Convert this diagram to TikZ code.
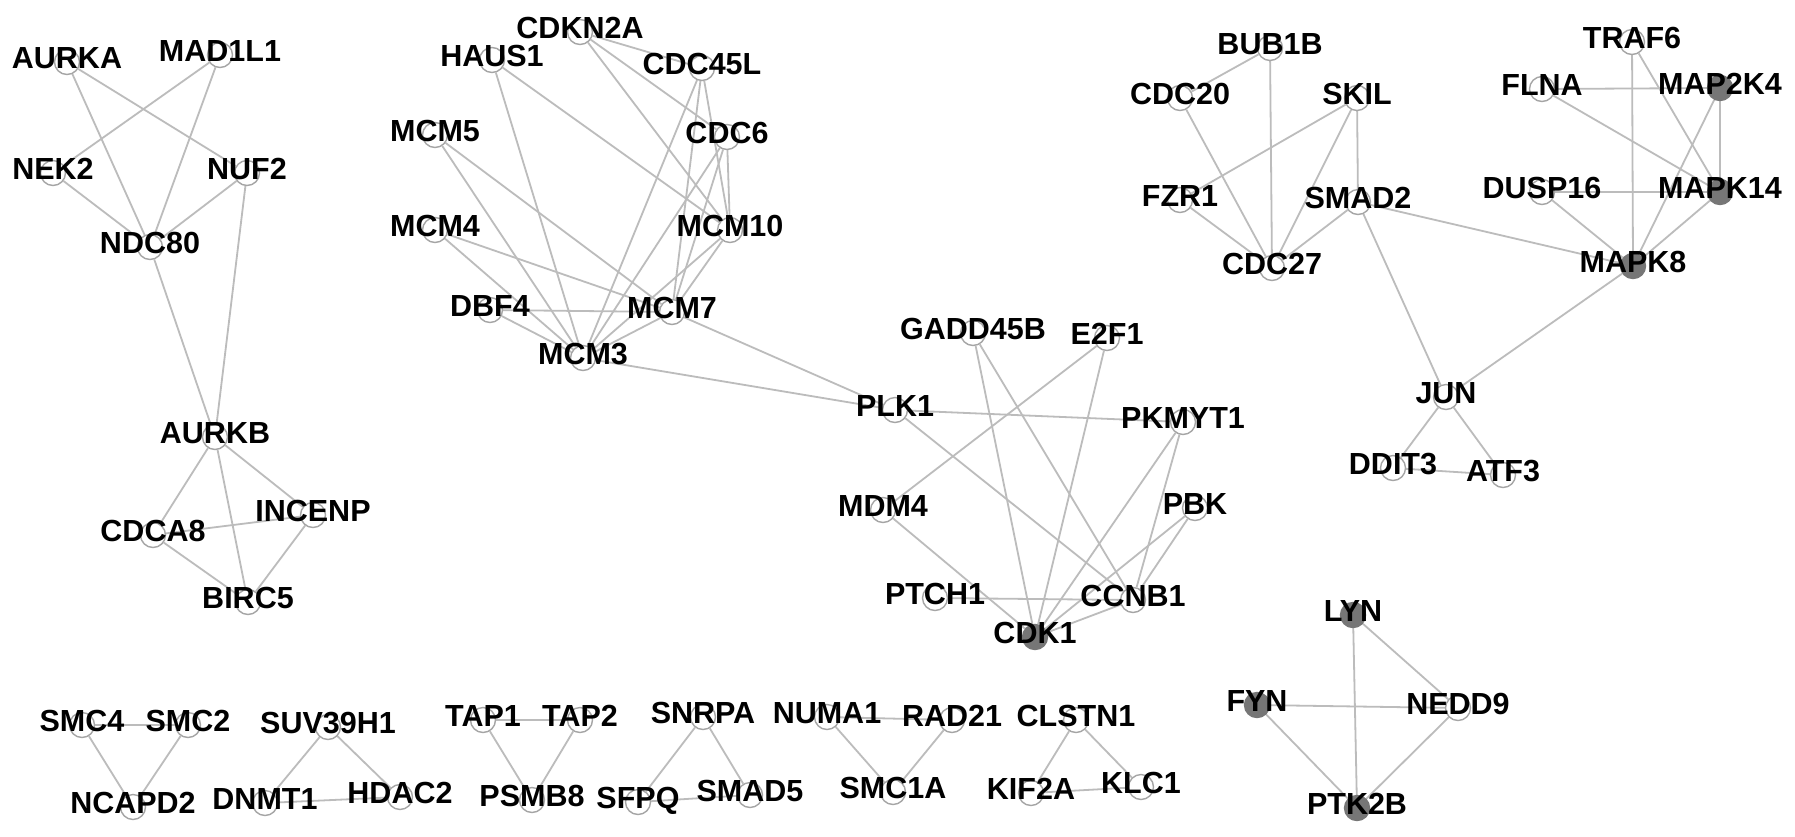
\documentclass[tikz,border=0pt]{standalone}
\usepackage{fontspec}
\setmainfont{Liberation Sans}
\definecolor{edgegray}{RGB}{188,188,188}
\definecolor{circgray}{RGB}{165,165,165}
\definecolor{hubgray}{RGB}{118,118,118}
\pgfdeclarelayer{edges}
\pgfdeclarelayer{labels}
\pgfsetlayers{edges,main,labels}
\begin{document}
\begin{tikzpicture}[x=1pt,y=-1pt,
  gene/.style={circle,draw=circgray,line width=1.4pt,fill=white,minimum size=25pt,inner sep=0pt},
  hub/.style={gene,fill=hubgray,draw=hubgray},
  lab/.style={font=\fontsize{30.5}{32}\selectfont\bfseries,text=black,inner sep=0pt,anchor=base},
  link/.style={draw=edgegray,line width=1.8pt}]
\useasboundingbox (0,0) rectangle (1795,836);
% plain nodes
\foreach \n/\x/\y in {
  AURKA/67/62, MAD1L1/220/55, NEK2/53/173, NUF2/247/173, NDC80/150/247,
  AURKB/215/437, CDCA8/153/535, INCENP/313/515, BIRC5/248/602,
  CDKN2A/580/32, HAUS1/492/60, CDC45L/702/68, MCM5/435/135, CDC6/727/137,
  MCM4/435/230, MCM10/730/230, DBF4/490/310, MCM7/672/312, MCM3/583/358,
  GADD45B/973/333, E2F1/1107/338, PLK1/895/410, PKMYT1/1183/422,
  MDM4/883/510, PBK/1195/508, PTCH1/935/598, CCNB1/1133/600,
  BUB1B/1270/48, CDC20/1180/98, SKIL/1357/98, FZR1/1180/200, SMAD2/1358/202,
  CDC27/1272/268, TRAF6/1632/42, FLNA/1542/89, DUSP16/1542/192,
  JUN/1446/397, DDIT3/1393/468, ATF3/1503/475,
  SMC4/82/725, SMC2/188/725, SUV39H1/328/727, TAP1/483/720, TAP2/580/720,
  NCAPD2/133/807, DNMT1/265/803, HDAC2/400/797, PSMB8/532/800,
  SNRPA/703/717, SFPQ/638/802, SMAD5/750/795, NUMA1/827/717, RAD21/952/720,
  SMC1A/893/792, CLSTN1/1076/720, KIF2A/1031/793, KLC1/1141/787,
  NEDD9/1458/708}
  \node[gene] (\n) at (\x,\y) {};
% filled nodes
\foreach \n/\x/\y in {
  CDK1/1035/637, MAP2K4/1720/88, MAPK14/1720/192, MAPK8/1633/266,
  LYN/1353/615, FYN/1257/705, PTK2B/1357/808}
  \node[hub] (\n) at (\x,\y) {};
% connectors
\begin{pgfonlayer}{edges}
\fill[white] (0,0) rectangle (1795,836);
\foreach \a/\b in {
  AURKA/NDC80, AURKA/NUF2, MAD1L1/NEK2, MAD1L1/NDC80, NEK2/NDC80, NUF2/NDC80,
  NUF2/AURKB, NDC80/AURKB, AURKB/CDCA8, AURKB/BIRC5, AURKB/INCENP,
  CDCA8/INCENP, CDCA8/BIRC5, INCENP/BIRC5,
  CDKN2A/CDC45L, CDKN2A/CDC6, CDKN2A/MCM10, HAUS1/MCM3, HAUS1/MCM10,
  CDC45L/MCM3, CDC45L/MCM7, CDC45L/MCM10, CDC6/MCM3, CDC6/MCM7, CDC6/MCM10,
  MCM10/MCM7, MCM10/MCM3, MCM5/MCM3, MCM5/MCM7, MCM4/MCM7, MCM4/MCM3,
  DBF4/MCM7, DBF4/MCM3, MCM7/MCM3, MCM7/PLK1, MCM3/PLK1,
  PLK1/PKMYT1, PLK1/CCNB1, GADD45B/CDK1, GADD45B/CCNB1, E2F1/MDM4, E2F1/CDK1,
  PKMYT1/CDK1, PKMYT1/CCNB1, PBK/CDK1, PBK/CCNB1, MDM4/CDK1, PTCH1/CCNB1,
  CCNB1/CDK1,
  BUB1B/CDC20, BUB1B/CDC27, CDC20/CDC27, SKIL/FZR1, SKIL/CDC27, SKIL/SMAD2,
  FZR1/CDC27, SMAD2/CDC27, SMAD2/MAPK8, SMAD2/JUN, MAPK8/JUN, JUN/DDIT3,
  JUN/ATF3, DDIT3/ATF3, TRAF6/MAPK8, TRAF6/MAPK14, FLNA/MAP2K4, FLNA/MAPK14,
  MAP2K4/MAPK14, MAP2K4/MAPK8, DUSP16/MAPK14, DUSP16/MAPK8, MAPK14/MAPK8,
  SMC4/SMC2, SMC4/NCAPD2, SMC2/NCAPD2, SUV39H1/DNMT1, SUV39H1/HDAC2,
  DNMT1/HDAC2, TAP1/TAP2, TAP1/PSMB8, TAP2/PSMB8, SNRPA/SFPQ, SNRPA/SMAD5,
  SFPQ/SMAD5, NUMA1/RAD21, NUMA1/SMC1A, RAD21/SMC1A, CLSTN1/KIF2A,
  CLSTN1/KLC1, KIF2A/KLC1,
  LYN/PTK2B, LYN/NEDD9, FYN/NEDD9, FYN/PTK2B, NEDD9/PTK2B}
  \draw[link] (\a) -- (\b);
\end{pgfonlayer}
% labels
\begin{pgfonlayer}{labels}
\foreach \n in {
  AURKA, MAD1L1, NEK2, NUF2, NDC80, AURKB, CDCA8, INCENP, BIRC5,
  CDKN2A, HAUS1, CDC45L, MCM5, CDC6, MCM4, MCM10, DBF4, MCM7, MCM3,
  GADD45B, E2F1, PLK1, PKMYT1, MDM4, PBK, PTCH1, CCNB1, CDK1,
  BUB1B, CDC20, SKIL, FZR1, SMAD2, CDC27, TRAF6, FLNA, MAP2K4, DUSP16,
  MAPK14, MAPK8, JUN, DDIT3, ATF3,
  SMC4, SMC2, SUV39H1, TAP1, TAP2, NCAPD2, DNMT1, HDAC2, PSMB8,
  SNRPA, SFPQ, SMAD5, NUMA1, RAD21, SMC1A, CLSTN1, KIF2A, KLC1,
  LYN, FYN, NEDD9, PTK2B}
  \node[lab] at ([yshift=-6pt]\n.center) {\n};
\end{pgfonlayer}
\end{tikzpicture}
\end{document}
